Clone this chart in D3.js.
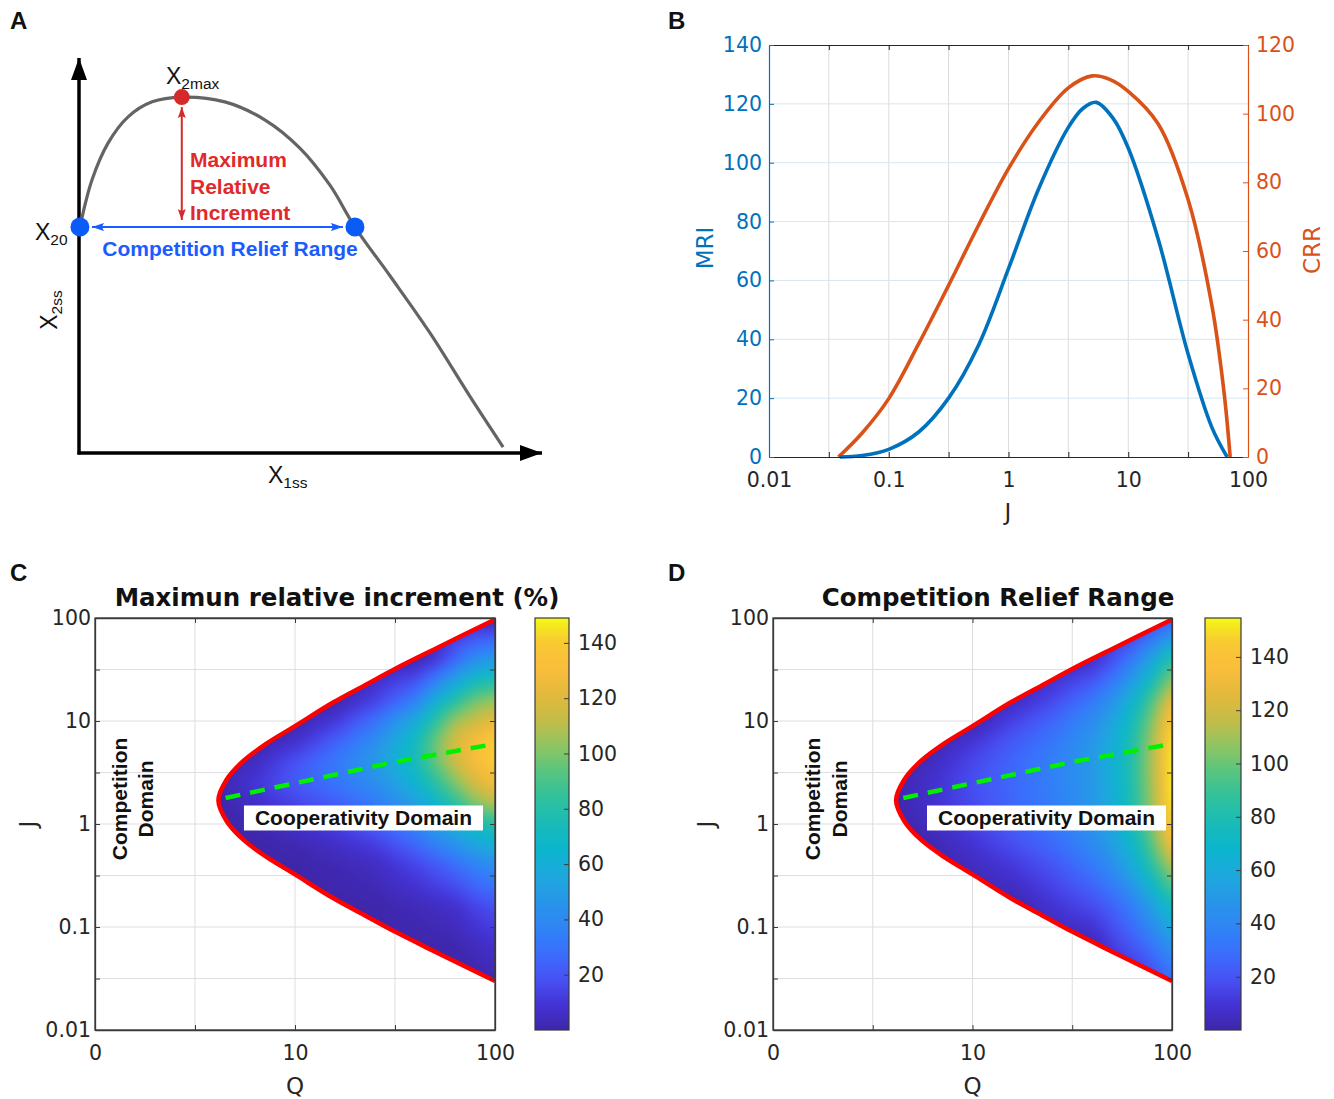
<!DOCTYPE html>
<html><head><meta charset="utf-8">
<script src="https://cdn.jsdelivr.net/npm/d3@7"></script>
<style>body{margin:0;background:#fff}svg{display:block}</style>
</head><body>
<svg id="fig" width="1334" height="1099"></svg>
<script>
// ================= DATA =================
// Panel A (schematic, arbitrary units)
const aCurveX1 = [0.002,0.028,0.063,0.106,0.158,0.222,0.315,0.402,0.477,0.542,0.596,0.672,0.758,0.844,0.916];
const aCurveX2 = [0.572,0.691,0.785,0.851,0.889,0.901,0.889,0.843,0.772,0.678,0.572,0.448,0.304,0.144,0.015];
const aPointX20 = [0.002, 0.572];
const aPointRight = [0.596, 0.572];
const aPointMax = [0.222, 0.901];

// Panel B
const bXTickVals = [0.01,0.0316,0.1,0.316,1,3.16,10,31.6,100];
const bXTickLabels = ["0.01","","0.1","","1","","10","","100"];
const mriTicks = [0,20,40,60,80,100,120,140];
const crrTicks = [0,20,40,60,80,100,120];
const mriJ = [0.039,0.06,0.1,0.178,0.316,0.562,1,1.78,3.16,4.2,5.4,7.5,10,17.8,31.6,50,67];
const mriVals = [0,0.5,2.6,8.5,20,38,64,91,112,118.5,120.5,115,105,74,35,10,0];
const crrJ = [0.038,0.06,0.1,0.178,0.316,0.562,1,1.78,3.16,5,7,10,17.8,31.6,50,63,71];
const crrVals = [0,7,17,33,50,67.5,84,97.5,107.5,111,110,106.5,97,75,44,19,0];

// Panels C & D
const qTickVals = [1,3.162,10,31.62,100];
const qTickLabels = ["0","","10","","100"];
const jTickVals = [0.01,0.0316,0.1,0.316,1,3.16,10,31.6,100];
const jTickLabels = ["0.01","","0.1","","1","","10","","100"];
const cbTicks = [20,40,60,80,100,120,140];

const boundaryQ = [4.14,4.55,5.5,7.2,10,15.5,23,31.6,49,100];
const boundaryUpperJ = [1.70,2.69,4.07,6.03,8.91,15.1,22.9,32.0,49.0,96.6];
const boundaryLowerJ = [1.70,1.07,0.708,0.479,0.324,0.191,0.126,0.0902,0.0589,0.0299];
const dashQ = [4.5,31.6,100];
const dashJ = [1.79,4.0,6.0];

const qGrid = [3.98,6.31,10,15.8,25.1,39.8,50.1,63.1,79.4,100];
const jGrid = [100,39.8,15.8,10,6.31,3.98,2.51,1.58,1,0.631,0.398,0.158,0.063,0.025];
const mriGrid = [
 [0,0,0,0,0,0,0,0,0,0],
 [0,0,0,0,0,0,8,25,42,48],
 [0,0,0,0,13,34,59,80,98,105],
 [0,0,0,10,29,58,82,106,115,123],
 [0,0,7,23,42,72,96,119,130,142],
 [0,4.5,19,32,48,73,95,115,130,141],
 [0,10,21,30,42,63,81,100,118,128],
 [0,6,14,22,32,51,66,82,100,110],
 [0,1.6,7,13,23,38,50,62,72,80],
 [0,0,2,6,12,25,35,44,55,62],
 [0,0,0,2,5,14,20,27,36,42],
 [0,0,0,0,0.5,3,5,7,14,18],
 [0,0,0,0,0,0,0.3,0.7,4,7],
 [0,0,0,0,0,0,0,0,0,0]
];
const crrGrid = [
 [0,0,0,0,0,0,0,0,10,20],
 [0,0,0,0,0,6,18,34,56,85],
 [0,0,0,4,16,33,46,66,93,130],
 [0,0,0,14,26,42,56,75,104,145],
 [0,0,10,22,32,48,61,80,110,152],
 [0,5,16,26,36,50,63,82,112,154],
 [0,8,18,27,36,49,62,81,111,154],
 [0,8,17,26,35,49,61,80,109,152],
 [0,5,14,23,32,46,58,76,104,146],
 [0,2,9,18,27,41,52,69,95,135],
 [0,0,5,11,20,33,44,60,84,115],
 [0,0,0,0,9,17,24,35,53,75],
 [0,0,0,0,0,0,12,20,30,45],
 [0,0,0,0,0,0,0,0,12,25]
];
const mriRange = [0,149];
const crrRange = [0,154.6];

// ================= STYLE =================
const FONT = "'DejaVu Sans', Verdana, sans-serif";
const ARIAL = "'Liberation Sans', Arial, sans-serif";
const BLUE = "#0072BD", ORANGE = "#D95319", AXC = "#262626";
const TICKFS = 20.5;
const parulaStops = [
 [0.000,"#3e26a8"],[0.063,"#4433d6"],[0.125,"#4752f4"],[0.188,"#3a6ffd"],
 [0.250,"#2f85f5"],[0.313,"#2796e8"],[0.375,"#1ea8dd"],[0.438,"#0bb5cd"],
 [0.500,"#19bbb8"],[0.563,"#2fc19d"],[0.625,"#55c581"],[0.688,"#8ec563"],
 [0.750,"#c2bd48"],[0.813,"#e3b93c"],[0.875,"#f9bd3c"],[0.938,"#f9c834"],
 [0.970,"#f3df24"],[1.000,"#f9fb15"]];
const parula = d3.scaleLinear().domain(parulaStops.map(s=>s[0])).range(parulaStops.map(s=>s[1]))
  .interpolate(d3.interpolateRgb).clamp(true);

const svg = d3.select("#fig");
const defs = svg.append("defs");

function marker(id, color, w, h, shape){
  defs.append("marker").attr("id",id).attr("markerUnits","userSpaceOnUse")
    .attr("viewBox",`0 0 ${w} ${h}`).attr("refX",w).attr("refY",h/2)
    .attr("markerWidth",w).attr("markerHeight",h).attr("orient","auto-start-reverse")
    .append("path").attr("d",shape).attr("fill",color);
}
marker("arrK","#000",22,16,"M0,0 L22,8 L0,16 Z");
marker("arrR","#d42a2a",11,8,"M0,0 L11,4 L0,8 L2,4 Z");
marker("arrB","#1a5cff",12,8,"M0,0 L12,4 L0,8 L2,4 Z");

// panel letters
[["A",10,29],["B",668,29],["C",10,581],["D",668,581]].forEach(([t,x,y])=>{
  svg.append("text").attr("x",x).attr("y",y).text(t).attr("font-family",ARIAL)
    .attr("font-weight","bold").attr("font-size",24).attr("fill","#111");
});

// ================= PANEL A =================
(function(){
  const xA = d3.scaleLinear().domain([0,1]).range([79,542]);
  const yA = d3.scaleLinear().domain([0,1]).range([453,58]);
  const g = svg.append("g");
  g.append("line").attr("x1",xA(0)).attr("x2",xA(0)).attr("y1",yA(0)+1.5).attr("y2",yA(1))
    .attr("stroke","#000").attr("stroke-width",3.5).attr("marker-end","url(#arrK)");
  g.append("line").attr("x1",xA(0)-1.5).attr("x2",xA(1)).attr("y1",yA(0)).attr("y2",yA(0))
    .attr("stroke","#000").attr("stroke-width",3.5).attr("marker-end","url(#arrK)");
  const pts = aCurveX1.map((v,i)=>[v,aCurveX2[i]]);
  g.append("path").attr("d",d3.line().x(d=>xA(d[0])).y(d=>yA(d[1])).curve(d3.curveCatmullRom)(pts))
    .attr("fill","none").attr("stroke","#646464").attr("stroke-width",3.2);
  g.append("line").attr("x1",xA(aPointMax[0])).attr("x2",xA(aPointMax[0]))
    .attr("y1",yA(aPointMax[1])+10).attr("y2",yA(aPointX20[1])-7)
    .attr("stroke","#d42a2a").attr("stroke-width",2)
    .attr("marker-start","url(#arrR)").attr("marker-end","url(#arrR)");
  g.append("line").attr("x1",xA(aPointX20[0])+12).attr("x2",xA(aPointRight[0])-12)
    .attr("y1",yA(aPointX20[1])).attr("y2",yA(aPointRight[1]))
    .attr("stroke","#1a5cff").attr("stroke-width",2)
    .attr("marker-start","url(#arrB)").attr("marker-end","url(#arrB)");
  g.append("circle").attr("cx",xA(aPointX20[0])).attr("cy",yA(aPointX20[1])).attr("r",9.5).attr("fill","#0b5cf7");
  g.append("circle").attr("cx",xA(aPointRight[0])).attr("cy",yA(aPointRight[1])).attr("r",9.5).attr("fill","#0b5cf7");
  g.append("circle").attr("cx",xA(aPointMax[0])).attr("cy",yA(aPointMax[1])).attr("r",8).attr("fill","#d42a2a");
  function sub(x,y,main,s,rot){
    const t = g.append("text").attr("font-family",ARIAL).attr("font-size",23).attr("fill","#111");
    if(rot){ t.attr("transform",`translate(${x},${y}) rotate(-90)`).attr("text-anchor","middle"); }
    else { t.attr("x",x).attr("y",y); }
    t.append("tspan").text(main);
    t.append("tspan").attr("font-size",15.5).attr("dy",5).text(s);
    return t;
  }
  sub(166,84,"X","2max");
  sub(35,240,"X","20");
  sub(57,310,"X","2ss",true);
  sub(268,483,"X","1ss");
  ["Maximum","Relative","Increment"].forEach((s,i)=>{
    g.append("text").attr("x",190).attr("y",167+i*26.5).text(s).attr("font-family",ARIAL)
      .attr("font-weight","bold").attr("font-size",21).attr("fill","#e02a2a");
  });
  g.append("text").attr("x",230).attr("y",256).attr("text-anchor","middle").text("Competition Relief Range")
    .attr("font-family",ARIAL).attr("font-weight","bold").attr("font-size",21).attr("fill","#1a5cff");
})();

// ================= PANEL B =================
(function(){
  const x = d3.scaleLog().domain([0.01,100]).range([769,1248]);
  const yL = d3.scaleLinear().domain([0,140]).range([457,45]);
  const yR = d3.scaleLinear().domain([0,120]).range([457,45]);
  const g = svg.append("g");
  g.selectAll(".vg").data(bXTickVals.slice(1,-1)).join("line")
    .attr("x1",d=>x(d)).attr("x2",d=>x(d)).attr("y1",45).attr("y2",457)
    .attr("stroke","#dcdcdc").attr("stroke-width",1);
  g.selectAll(".hg").data(mriTicks.slice(1,-1)).join("line")
    .attr("x1",769).attr("x2",1248).attr("y1",d=>yL(d)).attr("y2",d=>yL(d))
    .attr("stroke","#d6e6f2").attr("stroke-width",1);
  const line = (ys)=>d3.line().x(d=>x(d[0])).y(d=>ys(d[1])).curve(d3.curveCatmullRom.alpha(0.5));
  g.append("path").attr("d",line(yR)(crrJ.map((j,i)=>[j,crrVals[i]])))
    .attr("fill","none").attr("stroke",ORANGE).attr("stroke-width",3.6);
  g.append("path").attr("d",line(yL)(mriJ.map((j,i)=>[j,mriVals[i]])))
    .attr("fill","none").attr("stroke",BLUE).attr("stroke-width",3.6);
  const bot = g.append("g").attr("transform","translate(0,457)")
    .call(d3.axisBottom(x).tickValues(bXTickVals).tickFormat((d,i)=>bXTickLabels[i]).tickSizeInner(-5).tickSizeOuter(0).tickPadding(15));
  const top = g.append("g").attr("transform","translate(0,45)")
    .call(d3.axisTop(x).tickValues(bXTickVals).tickFormat("").tickSizeInner(-5).tickSizeOuter(0));
  const left = g.append("g").attr("transform","translate(769,0)")
    .call(d3.axisLeft(yL).tickValues(mriTicks).tickSizeInner(-5).tickSizeOuter(0).tickPadding(7));
  const right = g.append("g").attr("transform","translate(1248,0)")
    .call(d3.axisRight(yR).tickValues(crrTicks).tickSizeInner(-5).tickSizeOuter(0).tickPadding(8));
  [[bot,AXC],[top,AXC],[left,BLUE],[right,ORANGE]].forEach(([a,c])=>{
    a.selectAll("path").attr("stroke",c).attr("stroke-width",1.2);
    a.selectAll("line").attr("stroke",c);
    a.selectAll("text").attr("fill",c).attr("font-family",FONT).attr("font-size",TICKFS);
  });
  g.append("text").attr("x",1008).attr("y",520).attr("text-anchor","middle").text("J")
    .attr("font-family",FONT).attr("font-size",23).attr("fill",AXC);
  g.append("text").attr("transform","translate(713,248) rotate(-90)").attr("text-anchor","middle").text("MRI")
    .attr("font-family",FONT).attr("font-size",23).attr("fill",BLUE);
  g.append("text").attr("transform","translate(1320,250) rotate(-90)").attr("text-anchor","middle").text("CRR")
    .attr("font-family",FONT).attr("font-size",23).attr("fill",ORANGE);
})();

// ================= PANELS C & D =================
function heatPanel(o){
  const x = d3.scaleLog().domain([1,100]).range([o.x0,o.x1]);
  const y = d3.scaleLog().domain([0.01,100]).range([o.y1,o.y0]);
  const g = svg.append("g");
  g.selectAll(".vg").data(qTickVals.slice(1,-1)).join("line")
    .attr("x1",d=>x(d)).attr("x2",d=>x(d)).attr("y1",o.y0).attr("y2",o.y1).attr("stroke","#dedede");
  g.selectAll(".hg").data(jTickVals.slice(1,-1)).join("line")
    .attr("x1",o.x0).attr("x2",o.x1).attr("y1",d=>y(d)).attr("y2",d=>y(d)).attr("stroke","#dedede");
  const LUT = d3.range(256).map(k=>d3.rgb(parula(k/255)));
  const gx = qGrid.map(x), gy = jGrid.map(y);
  function sample(px,py){
    let i = d3.bisectRight(gx,px)-1; i = Math.max(0,Math.min(gx.length-2,i));
    let j = d3.bisectRight(gy,py)-1; j = Math.max(0,Math.min(gy.length-2,j));
    let tx = Math.max(0,Math.min(1,(px-gx[i])/(gx[i+1]-gx[i])));
    let ty = Math.max(0,Math.min(1,(py-gy[j])/(gy[j+1]-gy[j])));
    const G = o.grid;
    return (1-ty)*((1-tx)*G[j][i]+tx*G[j][i+1]) + ty*((1-tx)*G[j+1][i]+tx*G[j+1][i+1]);
  }
  const pad = 16;
  const W = Math.round(o.x1-o.x0)+2*pad, H = Math.round(o.y1-o.y0)+2*pad;
  const c1 = document.createElement("canvas"); c1.width=W; c1.height=H;
  const ctx1 = c1.getContext("2d"); const im = ctx1.createImageData(W,H);
  for(let r=0;r<H;r++){
    const py = o.y0-pad+r+0.5;
    for(let c=0;c<W;c++){
      const px = o.x0-pad+c+0.5;
      const v = sample(px,py);
      const k = Math.max(0,Math.min(255,Math.round(255*(v-o.range[0])/(o.range[1]-o.range[0]))));
      const cc = LUT[k], p=(r*W+c)*4;
      im.data[p]=cc.r; im.data[p+1]=cc.g; im.data[p+2]=cc.b; im.data[p+3]=255;
    }
  }
  ctx1.putImageData(im,0,0);
  const c2 = document.createElement("canvas"); c2.width=W; c2.height=H;
  const ctx2 = c2.getContext("2d"); ctx2.filter="blur(6px)"; ctx2.drawImage(c1,0,0);
  const bpts = [];
  for(let k=boundaryQ.length-1;k>=0;k--) bpts.push([boundaryQ[k],boundaryLowerJ[k]]);
  for(let k=1;k<boundaryQ.length;k++) bpts.push([boundaryQ[k],boundaryUpperJ[k]]);
  const bline = d3.line().x(d=>x(d[0])).y(d=>y(d[1])).curve(d3.curveCatmullRom.alpha(0.5));
  defs.append("clipPath").attr("id","clip"+o.id).append("path").attr("d",bline(bpts)+"Z");
  g.append("image").attr("href",c2.toDataURL()).attr("x",o.x0-pad).attr("y",o.y0-pad)
    .attr("width",W).attr("height",H).attr("preserveAspectRatio","none")
    .attr("clip-path",`url(#clip${o.id})`);
  g.append("path").attr("d",bline(bpts)).attr("fill","none").attr("stroke","#ff0000").attr("stroke-width",4.5);
  g.append("path").attr("d",d3.line().x(d=>x(d[0])).y(d=>y(d[1]))(dashQ.map((q,i)=>[q,dashJ[i]])))
    .attr("fill","none").attr("stroke","#00f000").attr("stroke-width",4.5).attr("stroke-dasharray","15,10");
  g.append("rect").attr("x",o.x0).attr("y",o.y0).attr("width",o.x1-o.x0).attr("height",o.y1-o.y0)
    .attr("fill","none").attr("stroke","#3a3a3a").attr("stroke-width",1.3);
  const b = g.append("g").attr("transform",`translate(0,${o.y1})`)
    .call(d3.axisBottom(x).tickValues(qTickVals).tickFormat((d,i)=>qTickLabels[i]).tickSizeInner(-5).tickSizeOuter(0).tickPadding(15));
  const t = g.append("g").attr("transform",`translate(0,${o.y0})`)
    .call(d3.axisTop(x).tickValues(qTickVals).tickFormat("").tickSizeInner(-5).tickSizeOuter(0));
  const l = g.append("g").attr("transform",`translate(${o.x0},0)`)
    .call(d3.axisLeft(y).tickValues(jTickVals).tickFormat((d,i)=>jTickLabels[i]).tickSizeInner(-5).tickSizeOuter(0).tickPadding(4));
  const rr = g.append("g").attr("transform",`translate(${o.x1},0)`)
    .call(d3.axisRight(y).tickValues(jTickVals).tickFormat("").tickSizeInner(-5).tickSizeOuter(0));
  [b,t,l,rr].forEach(a=>{
    a.selectAll("path").attr("stroke","#3a3a3a").attr("stroke-width",1.3);
    a.selectAll("line").attr("stroke","#3a3a3a");
    a.selectAll("text").attr("fill",AXC).attr("font-family",FONT).attr("font-size",TICKFS);
  });
  g.append("text").attr("x",x(10)).attr("y",o.y1+64).attr("text-anchor","middle").text("Q")
    .attr("font-family",FONT).attr("font-size",23).attr("fill",AXC);
  g.append("text").attr("transform",`translate(${o.x0-59},${y(1)}) rotate(-90)`).attr("text-anchor","middle").text("J")
    .attr("font-family",FONT).attr("font-size",23).attr("fill",AXC);
  g.append("text").attr("x",o.titleX).attr("y",o.y0-12).attr("text-anchor","middle").text(o.title)
    .attr("font-family",FONT).attr("font-weight","bold").attr("font-size",24.5).attr("fill","#111");
  const lt = g.append("text").attr("x",x(o.coopQ)).attr("y",y(1.14)).attr("dy","0.35em").attr("text-anchor","middle")
    .text("Cooperativity Domain").attr("font-family",ARIAL).attr("font-weight","bold").attr("font-size",21).attr("fill","#111");
  const bb = lt.node().getBBox();
  g.insert("rect",()=>lt.node()).attr("x",bb.x-11).attr("y",bb.y-1).attr("width",bb.width+22).attr("height",bb.height+2).attr("fill","#fff");
  const ct = g.append("text").attr("transform",`translate(${x(o.compQ)},${y(1.75)}) rotate(-90)`)
    .attr("text-anchor","middle").attr("font-family",ARIAL).attr("font-weight","bold").attr("font-size",21).attr("fill","#111");
  ct.append("tspan").attr("x",0).attr("dy","-0.1em").text("Competition");
  ct.append("tspan").attr("x",0).attr("dy","1.25em").text("Domain");
  const cy = d3.scaleLinear().domain(o.range).range([o.y1,o.y0]);
  const gid = "grad"+o.id;
  const gr = defs.append("linearGradient").attr("id",gid).attr("x1",0).attr("x2",0).attr("y1",1).attr("y2",0);
  d3.range(0,1.0001,0.02).forEach(s=>gr.append("stop").attr("offset",s).attr("stop-color",parula(s)));
  g.append("rect").attr("x",o.cbX).attr("y",cy(o.range[1])).attr("width",o.cbW).attr("height",cy(o.range[0])-cy(o.range[1]))
    .attr("fill",`url(#${gid})`).attr("stroke","#3a3a3a").attr("stroke-width",1.2);
  const ca = g.append("g").attr("transform",`translate(${o.cbX+o.cbW},0)`)
    .call(d3.axisRight(cy).tickValues(cbTicks).tickSizeInner(-5).tickSizeOuter(0).tickPadding(9));
  ca.select("path").remove();
  ca.selectAll("line").attr("stroke","#3a3a3a");
  ca.selectAll("text").attr("fill",AXC).attr("font-family",FONT).attr("font-size",TICKFS);
}
heatPanel({id:"C",x0:95,x1:495,y0:618,y1:1030,grid:mriGrid,range:mriRange,cbX:535,cbW:34,
  title:"Maximun relative increment (%)",titleX:337,compQ:1.48,coopQ:22});
heatPanel({id:"D",x0:773,x1:1172,y0:618,y1:1030,grid:crrGrid,range:crrRange,cbX:1205,cbW:36,
  title:"Competition Relief Range",titleX:998,compQ:1.77,coopQ:23.5});
</script>
</body></html>
